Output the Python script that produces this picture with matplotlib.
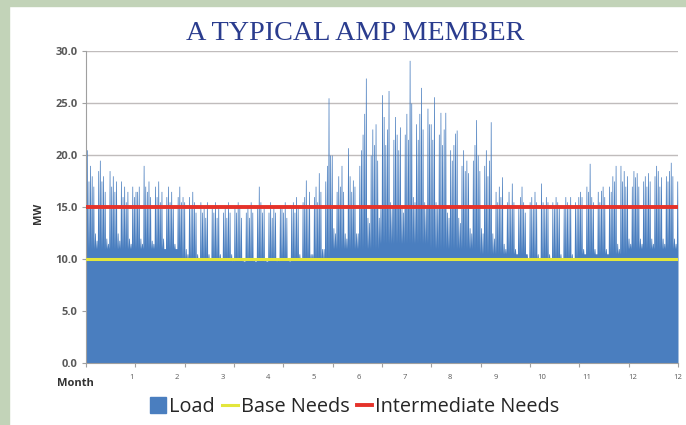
import numpy as np
import matplotlib.pyplot as plt
from matplotlib.patches import Patch, Rectangle
from matplotlib.lines import Line2D

# daily peak load (MW), one list per month
jan = [20.5, 17.5, 19.0, 18.0, 17.0, 12.5, 11.8, 18.5, 19.5, 17.5, 18.0, 16.5, 12.0, 11.5, 18.5, 17.0,
       18.0, 16.5, 17.5, 12.5, 11.8, 17.5, 16.0, 17.0, 15.5, 16.5, 12.0, 11.5, 17.0, 16.0, 16.5]
feb = [16.5, 17.0, 12.0, 11.5, 19.0, 17.0, 16.5, 17.5, 16.0, 11.8, 11.5, 17.0, 16.0, 17.5, 15.5, 16.5,
       12.0, 11.0, 16.0, 17.0, 15.5, 16.5, 15.0, 11.5, 11.0, 16.0, 17.0, 15.5]
mar = [16.0, 15.5, 11.0, 10.5, 16.0, 15.0, 16.5, 15.5, 14.5, 10.5, 10.0, 15.5, 14.5, 15.0, 14.0, 15.5,
       10.5, 10.0, 15.0, 14.5, 15.5, 14.0, 15.0, 10.5, 10.0, 14.5, 15.0, 14.0, 15.5, 14.5, 10.5]
apr = [10.0, 15.0, 14.5, 15.5, 15.0, 14.0, 10.0, 9.8, 14.5, 15.0, 14.0, 15.5, 14.5, 10.0, 9.8, 15.0,
       17.0, 15.5, 14.5, 15.0, 10.0, 9.8, 14.5, 15.5, 14.0, 15.0, 14.5, 10.0, 10.0, 15.0]
may = [15.0, 14.5, 15.5, 14.0, 10.0, 9.8, 15.0, 15.5, 14.5, 16.0, 15.0, 10.5, 10.0, 15.5, 16.0, 17.6,
       15.0, 16.5, 10.5, 10.5, 16.0, 17.0, 15.5, 18.3, 16.5, 11.0, 11.0, 17.5, 19.0, 25.5, 20.0]
jun = [20.0, 13.0, 12.5, 16.5, 18.0, 17.0, 19.0, 16.5, 12.5, 12.0, 20.7, 18.0, 16.5, 17.6, 17.0,
       12.5, 12.5, 19.0, 20.5, 22.0, 24.0, 27.4, 14.0, 13.5, 20.0, 22.5, 21.0, 23.0, 19.5, 14.0]
jul = [15.0, 25.8, 23.7, 21.0, 22.5, 26.2, 15.5, 15.0, 21.5, 23.7, 22.0, 20.5, 22.7, 15.0, 14.5, 22.0,
       24.0, 21.5, 29.1, 25.0, 16.0, 15.5, 23.0, 21.5, 24.0, 26.5, 22.5, 15.5, 15.0, 24.5, 23.0]
aug = [23.0, 21.5, 25.6, 15.5, 15.0, 22.0, 24.1, 21.0, 22.5, 24.1, 14.5, 14.0, 20.5, 19.5, 21.0, 22.1,
       22.4, 14.0, 13.5, 19.0, 20.5, 18.5, 19.5, 18.3, 13.0, 12.5, 19.5, 21.0, 23.4, 20.0, 18.5]
sep = [13.0, 12.5, 19.0, 20.5, 18.0, 19.5, 23.2, 12.5, 12.0, 16.5, 15.5, 17.0, 16.0, 17.9, 11.5,
       11.0, 15.5, 16.5, 15.0, 17.3, 15.5, 11.0, 10.5, 15.0, 16.0, 17.0, 15.5, 14.5, 10.5, 10.0]
oct_ = [15.5, 16.0, 15.0, 16.5, 15.5, 10.5, 10.0, 17.3, 15.5, 15.0, 16.0, 15.5, 10.5, 10.0, 15.5, 15.0,
        16.0, 15.5, 15.0, 10.5, 10.0, 15.0, 16.0, 15.5, 15.0, 16.0, 10.5, 10.0, 15.5, 15.0, 16.0]
nov = [16.5, 16.0, 11.0, 10.5, 17.0, 16.5, 19.2, 16.0, 15.5, 11.0, 10.5, 16.5, 15.5, 16.6, 17.0,
       16.0, 11.0, 10.5, 17.0, 16.5, 18.0, 17.5, 19.0, 11.5, 11.0, 19.0, 17.5, 18.5, 17.0, 18.0]
dec = [12.0, 11.5, 17.0, 18.5, 17.9, 18.3, 17.0, 12.0, 11.5, 17.5, 18.0, 17.0, 18.3, 17.5, 12.0, 11.5,
       18.0, 19.0, 18.5, 17.0, 17.9, 12.0, 11.5, 18.0, 17.5, 18.5, 19.3, 18.0, 12.0, 11.5, 17.5]
daily_peaks = [jan, feb, mar, apr, may, jun, jul, aug, sep, oct_, nov, dec]

# overnight low (MW) for each month
night_low = [11.0, 11.0, 10.0, 9.8, 10.0, 11.0, 11.5, 11.0, 10.5, 10.0, 10.5, 11.0]

base_needs = 10.0
intermediate_needs = 15.0
x_labels = ['1', '2', '3', '4', '5', '6', '7', '8', '9', '10', '11', '12', '12']

# load curve: low at night, day peak held through the afternoon
peaks = np.concatenate([np.array(m) for m in daily_peaks])
lows = np.concatenate([np.full(len(m), lo) for m, lo in zip(daily_peaks, night_low)])
ndays = len(peaks)
days = np.arange(ndays)
x = np.column_stack([days, days + 0.3, days + 0.75]).ravel()
y = np.column_stack([lows, peaks, peaks]).ravel()
x = np.append(x, ndays)
y = np.append(y, lows[-1])

fig = plt.figure(figsize=(6.86, 4.25), dpi=100)
fig.patch.set_facecolor('white')
# green page background strips
fig.patches.append(Rectangle((0, 0), 9 / 686, 1, transform=fig.transFigure, color='#c2d3b8', zorder=0))
fig.patches.append(Rectangle((0, 1 - 6 / 425), 1, 6 / 425, transform=fig.transFigure, color='#c2d3b8', zorder=0))

ax = fig.add_axes([86 / 686, 62 / 425, 592 / 686, 312 / 425])
ax.fill_between(x, 0, y, color='#4a7ebf', lw=0, zorder=2)
ax.axhline(base_needs, color='#e3e63c', lw=2.2, zorder=3)
ax.axhline(intermediate_needs, color='#e5322a', lw=2.8, zorder=3)

ax.set_xlim(0, ndays)
ax.set_ylim(0, 30)
ax.set_yticks(np.arange(0, 31, 5))
ax.set_yticklabels([f'{v:.1f}' for v in np.arange(0, 31, 5)], fontsize=8, color='#595959',
                   fontweight='bold', family='Open Sans')
ax.yaxis.grid(True, color='#c0bcbc', lw=1)
ax.set_axisbelow(True)
ax.tick_params(axis='y', length=3, color='#a0a0a0', pad=3)

# month divisions as ticks, labels spread evenly underneath
ax.xaxis.remove_overlapping_locs = False
ax.set_xticks(np.linspace(0, ndays, 13))
ax.set_xticklabels([])
ax.tick_params(axis='x', which='major', length=3, color='#a0a0a0')
ax.set_xticks(np.linspace(0, ndays, 14)[1:], minor=True)
ax.set_xticklabels(x_labels, minor=True, fontsize=5.5, color='#595959', family='Open Sans')
ax.tick_params(axis='x', which='minor', length=0, pad=8)

for s in ['top', 'right']:
    ax.spines[s].set_visible(False)
ax.spines['left'].set_color('#a0a0a0')
ax.spines['bottom'].set_color('#a0a0a0')

fig.text(38 / 686, 1 - 213 / 425, 'MW', rotation=90, ha='center', va='center', fontsize=8,
         fontweight='bold', color='#333333', family='Open Sans')
fig.text(75 / 686, 1 - 383 / 425, 'Month', ha='center', va='center', fontsize=8,
         fontweight='bold', color='#333333', family='Open Sans')
fig.text(355 / 686, 1 - 33 / 425, 'A TYPICAL AMP MEMBER', ha='center', va='center', fontsize=20.3,
         color='#2a3c8e', family='Liberation Serif')

handles = [Patch(color='#4a7ebf'),
           Line2D([], [], color='#e3e63c', lw=2.2),
           Line2D([], [], color='#e5322a', lw=2.8)]
fig.legend(handles, ['Load', 'Base Needs', 'Intermediate Needs'], loc='center',
           bbox_to_anchor=(355 / 686, 1 - 407 / 425), ncol=3, frameon=False,
           prop={'family': 'Open Sans', 'size': 14.3}, labelcolor='#262626', handlelength=0.8,
           handletextpad=0.15, columnspacing=0.35, handleheight=0.9)

fig.savefig('out.png', dpi=100)
